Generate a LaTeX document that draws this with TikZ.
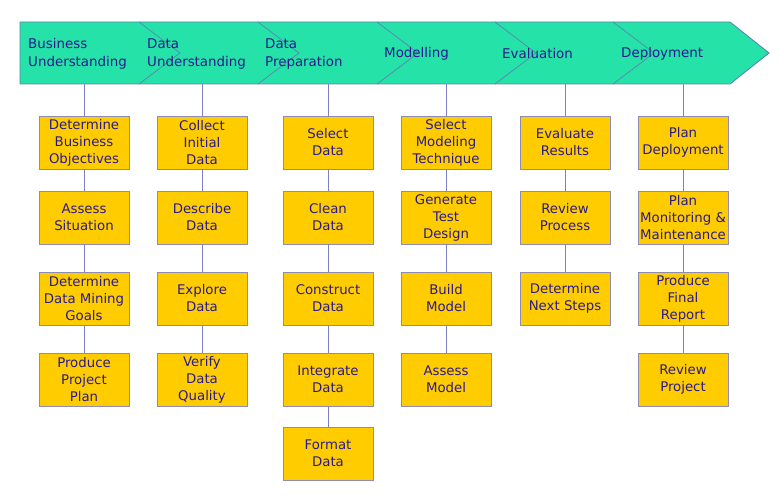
\documentclass[tikz,border=0pt]{standalone}
\usepackage{fontspec}
\setmainfont{DejaVu Sans}
\usepackage{xcolor}
\usepackage{tikz}

\definecolor{bannerfill}{HTML}{24E2A8}
\definecolor{banneredge}{HTML}{5B86B0}
\definecolor{taskfill}{HTML}{FFCC00}
\definecolor{taskedge}{HTML}{8C8CB4}
\definecolor{inkblue}{HTML}{2A1A8E}
\definecolor{linkblue}{HTML}{7F7FC4}

\tikzset{
  task/.style={draw=taskedge, line width=0.9pt, fill=taskfill, minimum width=90pt,
    minimum height=53pt, inner sep=0pt, align=center, text=inkblue,
    font=\fontsize{13.3}{17}\selectfont},
  phase/.style={anchor=west, align=left, inner sep=0pt, text=inkblue,
    font=\fontsize{13.4}{18}\selectfont},
  link/.style={draw=linkblue, line width=0.9pt}
}

\begin{document}
\begin{tikzpicture}[x=1pt,y=-1pt]
            \useasboundingbox (0,0) rectangle (784,500);

            % Drawing the banner
            \draw [fill=bannerfill, draw=banneredge, line width=0.9pt] (20,22) -- (730,22) -- (769,53) -- (730,84) -- (20,84) -- cycle;%

            % Drawing the chevrons
            \draw [draw=banneredge, line width=0.7pt] (139,22) -- (180,53) -- (139,84);%
            \draw [draw=banneredge, line width=0.7pt] (258,22) -- (299,53) -- (258,84);%
            \draw [draw=banneredge, line width=0.7pt] (377,22) -- (418,53) -- (377,84);%
            \draw [draw=banneredge, line width=0.7pt] (495,22) -- (536,53) -- (495,84);%
            \draw [draw=banneredge, line width=0.7pt] (613,22) -- (654,53) -- (613,84);%

            % Phase labels
            \node [phase] (bizund) at (28,54) {Business\\Understanding};%
            \node [phase] (dataund) at (147,54) {Data\\Understanding};%
            \node [phase] (dataprep) at (265,54) {Data\\Preparation};%
            \node [phase] (modelling) at (384,54) {Modelling};%
            \node [phase] (evaluation) at (502,54) {Evaluation};%
            \node [phase] (deployment) at (621,54) {Deployment};%

            % Feet of the banner
            \coordinate (bizfoot) at (84,84);%
            \coordinate (dataundfoot) at (202,84);%
            \coordinate (dataprepfoot) at (328,84);%
            \coordinate (modelfoot) at (446,84);%
            \coordinate (evalfoot) at (565,84);%
            \coordinate (deployfoot) at (683,84);%

            % Business Understanding tasks
            \node [task] (bizobj) at (84,142.5) {Determine\\Business\\Objectives};%
            \node [task] (situation) at (84,217.5) {Assess\\Situation};%
            \node [task] (minegoals) at (84,298.5) {Determine\\Data Mining\\Goals};%
            \node [task] (projplan) at (84,379.5) {Produce\\Project\\Plan};%

            % Data Understanding tasks
            \node [task] (collect) at (202,142.5) {Collect\\Initial\\Data};%
            \node [task] (describe) at (202,217.5) {Describe\\Data};%
            \node [task] (explore) at (202,298.5) {Explore\\Data};%
            \node [task] (verify) at (202,379.5) {Verify\\Data\\Quality};%

            % Data Preparation tasks
            \node [task] (select) at (328,142.5) {Select\\Data};%
            \node [task] (clean) at (328,217.5) {Clean\\Data};%
            \node [task] (construct) at (328,298.5) {Construct\\Data};%
            \node [task] (integrate) at (328,379.5) {Integrate\\Data};%
            \node [task] (format) at (328,453.5) {Format\\Data};%

            % Modelling tasks
            \node [task] (technique) at (446,142.5) {Select\\Modeling\\Technique};%
            \node [task] (testdesign) at (446,217.5) {Generate\\Test\\Design};%
            \node [task] (build) at (446,298.5) {Build\\Model};%
            \node [task] (assessmodel) at (446,379.5) {Assess\\Model};%

            % Evaluation tasks
            \node [task] (results) at (565,142.5) {Evaluate\\Results};%
            \node [task] (process) at (565,217.5) {Review\\Process};%
            \node [task] (nextsteps) at (565,298.5) {Determine\\Next Steps};%

            % Deployment tasks
            \node [task] (plandeploy) at (683,142.5) {Plan\\Deployment};%
            \node [task] (monitoring) at (683,217.5) {Plan\\Monitoring \&\\Maintenance};%
            \node [task] (finalreport) at (683,298.5) {Produce\\Final\\Report};%
            \node [task] (reviewproj) at (683,379.5) {Review\\Project};%

            % Drawing links
            \draw [link] (bizfoot) -- (bizobj) (bizobj) -- (situation) (situation) -- (minegoals) (minegoals) -- (projplan);%
            \draw [link] (dataundfoot) -- (collect) (collect) -- (describe) (describe) -- (explore) (explore) -- (verify);%
            \draw [link] (dataprepfoot) -- (select) (select) -- (clean) (clean) -- (construct) (construct) -- (integrate) (integrate) -- (format);%
            \draw [link] (modelfoot) -- (technique) (technique) -- (testdesign) (testdesign) -- (build) (build) -- (assessmodel);%
            \draw [link] (evalfoot) -- (results) (results) -- (process) (process) -- (nextsteps);%
            \draw [link] (deployfoot) -- (plandeploy) (plandeploy) -- (monitoring) (monitoring) -- (finalreport) (finalreport) -- (reviewproj);%
\end{tikzpicture}
\end{document}
